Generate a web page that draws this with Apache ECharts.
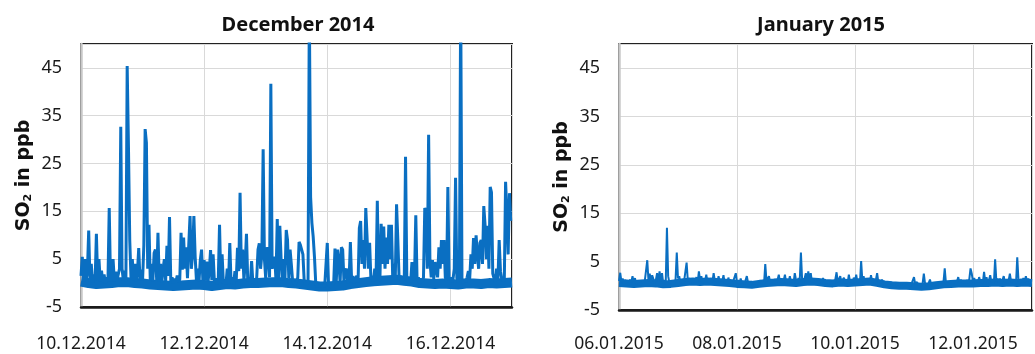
<!DOCTYPE html>
<html>
<head>
<meta charset="utf-8">
<script src="https://cdn.jsdelivr.net/npm/echarts@6/dist/echarts.min.js"></script>
<style>
  html, body { margin: 0; padding: 0; background: #fff; }
  #chart { width: 1035px; height: 354px; }
</style>
</head>
<body>
<div id="chart"></div>
<script>
// SO2 readings, half-hourly, one array per day (ppb)
const dec10 = [1.5, 5.5, 0.3, 5, 0.6, 2.5, 11, 0.4, 4, 0.2, 1.8, 0.5, 10.3, 0.6, 5, 0.3, 2.6, 0.1, 1.8, 0, 1.2, 0.3, 15.7, 0.4,
  1.5, 5, 0.3, 2.4, 0.5, 0.1, 3, 32.7, 3, 0.6, 2.6, 0.4, 45.4, 28.5, 9, 0.8, 5, 0.5, 4, 0.4, 2.2, 7.3, 0.5, 2.8];
const dec11 = [0.6, 8, 32.2, 29.3, 3, 12.2, 0.5, 4, 0.3, 6.3, 7, 0.6, 10.5, 0.4, 4, 0.2, 3, 5, 0.4, 7.8, 1.5, 13.8, 0.3, 1.2,
  0, 0.9, 0.1, 1.6, 0.2, 0.8, 10.5, 2.8, 9.5, 3, 7.5, 1, 8, 14, 3, 6, 14, 5.5, 0.5, 3, 0.3, 4.8, 7, 0.5];
const dec12 = [4.8, 0.5, 4.5, 0.3, 2.5, 6.9, 0.6, 6, 0.2, 1, -0.2, 0.5, 12.2, 0.2, 6, -0.1, 0.8, -0.3, 3, 0, 8.4, -0.1, 1.2, -0.2,
  2.5, 0.3, 7.4, 2.5, 18.9, 3, 7, 0.6, 4, 10.3, 0.3, 1.2, -0.2, 4.6, 0, 0.8, -0.3, 1.2, 7, 8.3, 3, 6, 28, 5];
const dec13 = [1, 7.5, 6.5, 1.2, 41.7, 3, 4.8, 5.5, 0.6, 13.4, 1, 12, 5, 0.5, 5, 1, 11.1, 9, 1, 7, 3.8, 0.3, 0, -0.3,
  0.2, 1.2, 8.6, 8, 7, 6, 0.4, -0.2, -0.5, 0, 58, 18, 12.6, 9.7, 5.5, 0, -0.7, -0.9, -0.6, -1, -0.7, -0.9, -0.6, -0.8];
const dec14 = [8.4, -0.6, -0.2, -0.8, -0.4, 0, 7.2, 0.3, 7, 4.8, 0, 7.5, 7, 0.3, 2.5, 3, 0, 0.6, 8.6, 0.2, 1.5, 0, 0.9, 1.5,
  0.2, 11.5, 13, 4, 9, 3, 15.7, 9.7, 3, 8.4, 0.8, 1.5, 0.3, 3, 0.6, 17.2, 1.2, 0.4, 12.4, 4, 11.8, 3, 9.5, 4];
const dec15 = [12.2, 5, 12.2, 1.2, 4, 0.8, 16.5, 9, 0.8, 1.5, 0.3, 1.2, 0.5, 26.4, 1.2, 0.3, 0.9, 0.2, 4.4, 0.6, 1.4, 14.2, 0.5, 1.2,
  0, 0.8, 0.3, 1.2, 15.7, 15, 3, 31, 5, 1.2, 4.8, 0.8, 4.4, 3, 1.2, 7.5, 3, 9, 4, 9, 1.2, 0.5, 20.1, 0.6];
const dec16 = [1.2, 0.2, 0.8, 3, 22, 1, 0.3, 1, 60, 1, 0, 0.8, 0.2, 1.2, 2.5, 0.8, 6, 3, 9.4, 4, 10, 6, 3, 8.4,
  9, 4, 16.1, 12.2, 5, 12, 3, 20.1, 19, 2, 1, 0.3, 3, 0.5, 9, 2.5, 0.8, 1.2, 0.4, 21.2, 14.5, 6, 18.8, 13];

const jan06 = [1, 2.7, 0.8, 1.5, 0.4, 1.2, 0.6, 1, 0.4, 1.3, 0.8, 2, 0.6, 1.6, 0.3, 1, 0.5, 0.9, 0.2, 0.8, 0.4, 1, 0.6, 5.3,
  1, 2.5, 0.8, 2.2, 1.4, 0.6, 1.2, 2.6, 0.8, 3, 1, 2.6, 0.5, 1.2, 0.4, 12, 2, 0.6, 1.1, 0.3, 0.9, 0.4, 1.2, 6.9];
const jan07 = [1.5, 2, 0.6, 1.2, 0.5, 1, 0.7, 4.8, 1, 1.6, 0.5, 1.2, 0.6, 1.4, 0.8, 1.8, 0.7, 3, 1, 2, 0.6, 1.5, 0.8, 2.3,
  0.7, 1.3, 0.5, 1.6, 0.8, 2.6, 1, 1.5, 0.6, 2, 0.8, 1.4, 0.9, 2.2, 0.5, 1.2, 0.4, 1.7, 0.6, 1.1, 0.3, 1, 0.6, 2.6];
const jan08 = [0.6, 1.2, 0.4, 1.5, 0.5, 1, 0.3, 1.2, 2, 0.6, 1, 0.2, 0.8, 1.2, 0.3, 0.9, 0.2, 0.8, 0.4, 1.1, 0.5, 0.9, 0.4, 4.5,
  1, 1.5, 2, 0.6, 1.2, 1.5, 0.5, 1, 0.4, 1.2, 2.3, 0.7, 1.3, 0.5, 1.1, 2.3, 0.6, 1.4, 0.8, 2, 0.7, 1.2, 0.5, 2.6];
const jan09 = [1.2, 0.5, 1.6, 0.8, 6.9, 1.2, 0.6, 1.5, 2.6, 0.8, 3, 1, 2.6, 0.7, 1.3, 0.5, 1.2, 0.4, 1, 0.5, 1.2, 0.6, 1.6, 0.4,
  1, 0.5, 1, 0.3, 0.9, 0.4, 1.1, 0.5, 1.3, 2.8, 0.8, 1.4, 2, 0.6, 1.2, 1.7, 0.5, 1.1, 0.6, 2.3, 0.7, 1.2, 0.5, 1.7];
const jan10 = [0.8, 2.3, 0.6, 1.2, 0.5, 5.1, 1, 2, 0.6, 1.5, 0.8, 1.2, 0.5, 2.2, 0.8, 1.4, 0.6, 1.2, 2.6, 0.7, 1.2, 0.5, 1.3, 0.4,
  0.8, 0.2, 0.6, 0.1, 0.5, 0, 0.4, -0.1, 0.3, -0.2, 0.3, -0.1, 0.4, -0.2, 0.2, -0.3, 0.3, -0.1, 0.4, 0, 0.5, -0.1, 0.4, 0.2];
const jan11 = [1.8, 0.3, 0.8, 1, 0.2, 0.6, 0, 0.5, 2.5, 0.4, 0.8, 0.1, 0.6, 1.3, 0.2, 0.6, 0, 0.5, 0.8, 0.1, 0.6, 0.2, 0.7, 0.3,
  0.8, 3.6, 0.5, 0.9, 0.3, 0.8, 0.4, 1, 0.5, 1.1, 0.4, 0.9, 1.8, 0.6, 1.2, 1.5, 0.6, 1.1, 0.5, 1.2, 0.6, 1.4, 3.6, 2.5];
const jan12 = [0.8, 1.6, 0.6, 1.2, 0.7, 1.8, 0.8, 1.3, 0.6, 2.9, 0.8, 1.8, 0.6, 1.2, 2.2, 0.7, 1.3, 0.6, 5.5, 1, 1.5, 0.8, 1.5, 0.6,
  1.2, 2, 0.7, 1.3, 0.6, 1.1, 2.5, 0.8, 1.3, 0.6, 1.2, 0.5, 5.9, 1.2, 0.6, 1.4, 0.8, 1.6, 0.7, 2, 0.9, 1.5, 0.6, 1.2];

// slowly drifting background level, every 3 hours
const decBase = [0.3, 0, -0.2, -0.1, 0, 0.2, 0.2, 0, -0.1, -0.3, -0.4, -0.5, -0.6, -0.5, -0.4, -0.3,
  -0.4, -0.6, -0.4, -0.2, -0.3, -0.1, 0, 0, 0.1, 0.2, 0.2, 0, -0.1, -0.3, -0.5, -0.7,
  -0.7, -0.6, -0.5, -0.2, 0, 0.2, 0.4, 0.5, 0.6, 0.7, 0.5, 0.3, 0, -0.1, -0.2, -0.1,
  -0.2, -0.3, -0.1, -0.1, -0.2, 0, -0.1, 0, 0.1];
const janBase = [0.6, 0.5, 0.4, 0.5, 0.6, 0.5, 0.3, 0.4, 0.6, 0.8, 0.9, 0.8, 0.9, 0.8, 0.7, 0.6,
  0.4, 0.3, 0.2, 0.4, 0.6, 0.7, 0.8, 0.7, 0.6, 0.8, 0.9, 0.8, 0.6, 0.5, 0.7, 0.6,
  0.7, 0.8, 0.9, 0.6, 0.3, 0.1, 0, 0, -0.1, -0.2, -0.1, 0.1, 0.3, 0.4, 0.5, 0.5,
  0.5, 0.6, 0.6, 0.7, 0.6, 0.7, 0.6, 0.7, 0.6];

const decTicks = ['10.12.2014', '12.12.2014', '14.12.2014', '16.12.2014'];
const janTicks = ['06.01.2015', '08.01.2015', '10.01.2015', '12.01.2015'];
const titles = ['December 2014', 'January 2015'];

const BLUE = '#0a6fc2';
const FONT = "'Noto Sans', 'DejaVu Sans', sans-serif";

// x is hours since the first midnight of each panel
const halfHourly = (days) => days.flat().map((v, i) => [i * 0.5, v]);
const threeHourly = (arr) => arr.map((v, i) => [i * 3, v]);

const xAxisFor = (gridIndex, ticks, labelMargin) => ({
  type: 'value',
  gridIndex,
  min: 0,
  max: 168,
  interval: 48,
  axisLine: { show: true, onZero: false, lineStyle: { color: '#1a1a1a', width: 2.5 } },
  axisTick: { show: false },
  splitLine: { show: true, lineStyle: { color: '#d9d9d9', width: 1 } },
  axisLabel: {
    margin: labelMargin,
    fontFamily: FONT,
    fontSize: 17.5,
    color: '#1a1a1a',
    formatter: (v) => (v % 48 === 0 ? ticks[v / 48] || '' : ''),
  },
});

const yAxisFor = (gridIndex) => ({
  type: 'value',
  gridIndex,
  min: -5,
  max: 50,
  interval: 10,
  name: 'SO{s|2} in ppb',
  nameLocation: 'middle',
  nameRotate: 90,
  nameGap: 47,
  nameTextStyle: {
    fontFamily: 'DejaVu Sans',
    fontWeight: 'bold',
    fontSize: 19,
    color: '#111',
    rich: {
      s: { fontFamily: 'DejaVu Sans', fontWeight: 'bold', fontSize: 11, color: '#111', verticalAlign: 'bottom', padding: [9, 0, 0, 0] },
    },
  },
  axisLine: { show: true, lineStyle: { color: '#c8c8c8', width: 2.5 } },
  axisTick: { show: false },
  splitLine: { show: true, lineStyle: { color: '#d9d9d9', width: 1 } },
  axisLabel: {
    margin: 19,
    fontFamily: FONT,
    fontSize: 18,
    color: '#1a1a1a',
    showMaxLabel: false,
    formatter: (v) => (v === 50 ? '' : String(v)),
  },
});

const titleStyle = { fontFamily: FONT, fontWeight: 'bold', fontSize: 20, color: '#111' };

const chart = echarts.init(document.getElementById('chart'), null, { renderer: 'canvas' });

chart.setOption({
  animation: false,
  backgroundColor: '#fff',
  title: [
    { text: titles[0], left: 293, top: 10, textAlign: 'center', textStyle: titleStyle },
    { text: titles[1], left: 816, top: 10, textAlign: 'center', textStyle: titleStyle },
  ],
  grid: [
    { left: 81, top: 44, width: 431, height: 263, show: true, borderColor: '#222', borderWidth: 2, backgroundColor: 'transparent' },
    { left: 619, top: 44, width: 428, height: 266, show: true, borderColor: '#222', borderWidth: 2, backgroundColor: 'transparent' },
  ],
  xAxis: [xAxisFor(0, decTicks, 28), xAxisFor(1, janTicks, 25)],
  yAxis: [yAxisFor(0), yAxisFor(1)],
  series: [
    { type: 'line', xAxisIndex: 0, yAxisIndex: 0, data: threeHourly(decBase), showSymbol: false, symbol: 'none',
      lineStyle: { color: BLUE, width: 10 }, z: 2 },
    { type: 'line', xAxisIndex: 0, yAxisIndex: 0, data: halfHourly([dec10, dec11, dec12, dec13, dec14, dec15, dec16]),
      showSymbol: false, symbol: 'none', lineStyle: { color: BLUE, width: 3 }, z: 3 },
    { type: 'line', xAxisIndex: 1, yAxisIndex: 1, data: threeHourly(janBase), showSymbol: false, symbol: 'none',
      lineStyle: { color: BLUE, width: 8 }, z: 2 },
    { type: 'line', xAxisIndex: 1, yAxisIndex: 1, data: halfHourly([jan06, jan07, jan08, jan09, jan10, jan11, jan12]),
      showSymbol: false, symbol: 'none', lineStyle: { color: BLUE, width: 2 }, z: 3 },
  ],
});
</script>
</body>
</html>
